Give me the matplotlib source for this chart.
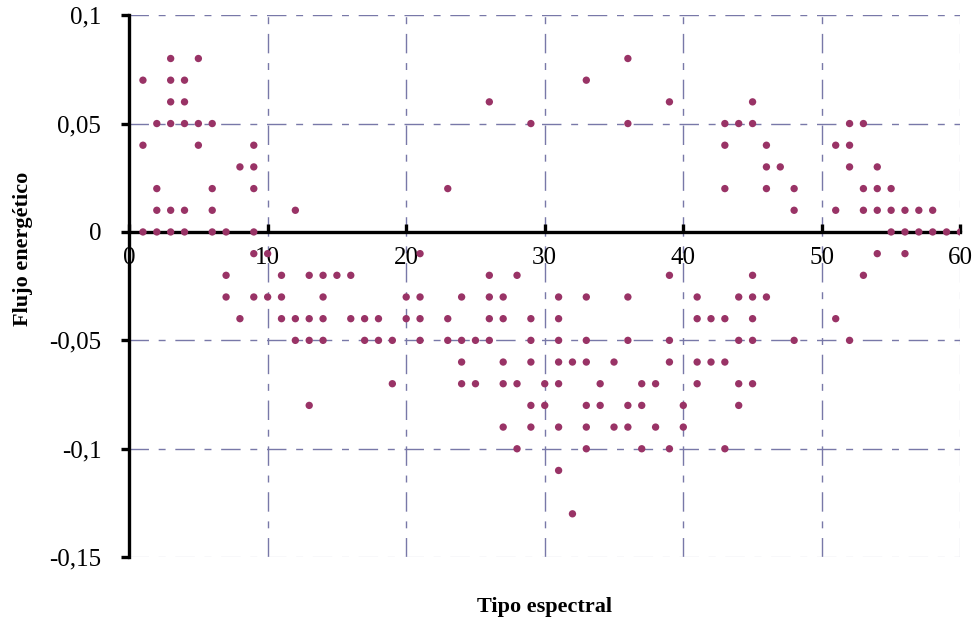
import matplotlib
matplotlib.use("Agg")
import matplotlib.pyplot as plt
from matplotlib.ticker import FuncFormatter

# ======================
# Data (tipo espectral, flujo energetico)
# ======================

tipo = [
    1, 1, 1,
    2, 2, 2, 2,
    3, 3, 3, 3, 3, 3,
    4, 4, 4, 4, 4,
    5, 5, 5,
    6, 6, 6, 6,
    7, 7, 7,
    8, 8,
    9, 9, 9, 9, 9, 9,
    10, 10,
    11, 11, 11,
    12, 12, 12,
    13, 13, 13, 13,
    14, 14, 14, 14,
    15,
    16, 16,
    17, 17,
    18, 18,
    19, 19,
    20, 20,
    21, 21, 21, 21,
    23, 23, 23,
    24, 24, 24, 24,
    25, 25,
    26, 26, 26, 26, 26,
    27, 27, 27, 27, 27,
    28, 28, 28,
    29, 29, 29, 29, 29, 29,
    30, 30,
    31, 31, 31, 31, 31, 31, 31,
    32, 32,
    33, 33, 33, 33, 33, 33, 33,
    34, 34,
    35, 35,
    36, 36, 36, 36, 36, 36,
    37, 37, 37,
    38, 38,
    39, 39, 39, 39, 39,
    40, 40,
    41, 41, 41, 41,
    42, 42,
    43, 43, 43, 43, 43, 43,
    44, 44, 44, 44, 44,
    45, 45, 45, 45, 45, 45, 45,
    46, 46, 46, 46,
    47,
    48, 48, 48,
    51, 51, 51,
    52, 52, 52, 52,
    53, 53, 53, 53,
    54, 54, 54, 54,
    55, 55, 55,
    56, 56, 56,
    57, 57,
    58, 58,
    59,
    60,
]

flujo = [
    0.07, 0.04, 0,
    0.05, 0.02, 0.01, 0,
    0.08, 0.07, 0.06, 0.05, 0.01, 0,
    0.07, 0.06, 0.05, 0.01, 0,
    0.08, 0.05, 0.04,
    0.05, 0.02, 0.01, 0,
    0, -0.02, -0.03,
    0.03, -0.04,
    0.04, 0.03, 0.02, 0, -0.01, -0.03,
    -0.01, -0.03,
    -0.02, -0.03, -0.04,
    0.01, -0.04, -0.05,
    -0.02, -0.04, -0.05, -0.08,
    -0.02, -0.03, -0.04, -0.05,
    -0.02,
    -0.02, -0.04,
    -0.04, -0.05,
    -0.04, -0.05,
    -0.05, -0.07,
    -0.03, -0.04,
    -0.01, -0.03, -0.04, -0.05,
    0.02, -0.04, -0.05,
    -0.03, -0.05, -0.06, -0.07,
    -0.05, -0.07,
    0.06, -0.02, -0.03, -0.04, -0.05,
    -0.03, -0.04, -0.06, -0.07, -0.09,
    -0.02, -0.07, -0.10,
    0.05, -0.04, -0.05, -0.06, -0.08, -0.09,
    -0.07, -0.08,
    -0.03, -0.04, -0.05, -0.06, -0.07, -0.09, -0.11,
    -0.06, -0.13,
    0.07, -0.03, -0.05, -0.06, -0.08, -0.09, -0.10,
    -0.07, -0.08,
    -0.06, -0.09,
    0.08, 0.05, -0.03, -0.05, -0.08, -0.09,
    -0.07, -0.08, -0.10,
    -0.07, -0.09,
    0.06, -0.02, -0.05, -0.06, -0.10,
    -0.08, -0.09,
    -0.03, -0.04, -0.06, -0.07,
    -0.04, -0.06,
    0.05, 0.04, 0.02, -0.04, -0.06, -0.10,
    0.05, -0.03, -0.05, -0.07, -0.08,
    0.06, 0.05, -0.02, -0.03, -0.04, -0.05, -0.07,
    0.04, 0.03, 0.02, -0.03,
    0.03,
    0.02, 0.01, -0.05,
    0.04, 0.01, -0.04,
    0.05, 0.04, 0.03, -0.05,
    0.05, 0.02, 0.01, -0.02,
    0.03, 0.02, 0.01, -0.01,
    0.02, 0.01, 0,
    0.01, 0, -0.01,
    0.01, 0,
    0.01, 0,
    0,
    0,
]

x_ticks = [0, 10, 20, 30, 40, 50, 60]
y_ticks = [-0.15, -0.1, -0.05, 0, 0.05, 0.1]

# ======================
# Plot
# ======================

plt.rcParams["font.family"] = ["Liberation Serif", "DejaVu Serif"]

fig = plt.figure(figsize=(9.78, 6.31), dpi=100)
ax = fig.add_axes([0.132, 0.117, 0.850, 0.859])

grid_color = "#7878a8"
edge_color = "#dedee8"
for xv in x_ticks[1:]:
    c = edge_color if xv == 60 else grid_color
    ax.axvline(xv, color=c, linewidth=1, dashes=(14, 7, 5, 7), zorder=1)
for yv in y_ticks:
    if yv == 0:
        continue
    c = edge_color if yv == -0.15 else grid_color
    ax.axhline(yv, color=c, linewidth=1, dashes=(14, 7, 5, 7), zorder=1)

ax.scatter(tipo, flujo, s=28, color="#993366", edgecolors="none", zorder=3)

ax.set_xlim(0, 60)
ax.set_ylim(-0.15, 0.1)
ax.set_xticks(x_ticks)
ax.set_yticks(y_ticks)

ax.yaxis.set_major_formatter(
    FuncFormatter(lambda v, p: f"{v:g}".replace(".", ","))
)

ax.spines["bottom"].set_position(("data", 0))
ax.spines["left"].set_position(("data", 0))
ax.spines["top"].set_visible(False)
ax.spines["right"].set_visible(False)
for s in ("bottom", "left"):
    ax.spines[s].set_linewidth(2.4)
    ax.spines[s].set_zorder(2)

ax.tick_params(axis="x", direction="in", length=6, width=2.4, pad=11, labelsize=18)
ax.tick_params(axis="y", direction="out", length=6, width=2.4, pad=14, labelsize=18)

fig.text(0.557, 0.038, "Tipo espectral", ha="center", va="center",
         fontsize=16, fontweight="bold")
fig.text(0.024, 0.605, "Flujo energético", ha="center", va="center",
         rotation=90, fontsize=16, fontweight="bold")

fig.savefig("out.png", dpi=100)
